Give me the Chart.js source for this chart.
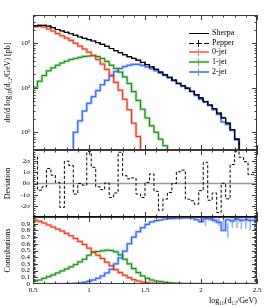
<!DOCTYPE html>
<html><head><meta charset="utf-8">
<script src="https://cdn.jsdelivr.net/npm/chart.js@4.4.1/dist/chart.umd.min.js"></script>
<style>
html,body{margin:0;padding:0;background:#fff;}
#wrap{position:relative;width:266px;height:307px;overflow:hidden;background:#fff;}
#wrap canvas{position:absolute;left:0;top:0;}
.lgt{position:absolute;font-family:'Liberation Serif','DejaVu Serif',serif;font-size:8px;line-height:9px;color:#000;white-space:nowrap;}
.lgl{position:absolute;height:0;}
</style></head>
<body><div id="wrap">
<canvas id="c1" width="266" height="307"></canvas>
<canvas id="c2" width="266" height="307"></canvas>
<canvas id="c3" width="266" height="307"></canvas>
<div id="legend"></div>
</div>
<script>
// ---------- data ----------
const binEdges = [0.50,0.54,0.58,0.62,0.66,0.70,0.74,0.78,0.82,0.86,0.90,0.94,0.98,1.02,1.06,1.10,1.14,1.18,1.22,1.26,1.30,1.34,1.38,1.42,1.46,1.50,1.54,1.58,1.62,1.66,1.70,1.74,1.78,1.82,1.86,1.90,1.94,1.98,2.02,2.06,2.10,2.14,2.18,2.22,2.26,2.30,2.34,2.38,2.42,2.46,2.50];

const sherpaTotal = [2320,2440,2520,2530,2410,2240,2030,1880,1750,1630,
  1505,1380,1285,1200,1120,1030,945,850,760,685,
  615,555,500,455,415,370,330,295,258,225,
  198,172,148,126,111,98,83,70,59,49,
  41,34,27,21,16,11.5,7,3.5,2,1.5];

const jet0 = [2260,2340,2370,2310,2100,1880,1640,1470,1300,1160,
  1000,860,740,630,530,430,340,258,190,132,
  88,55,32,16,8,3,1.5,null,null,null,
  null,null,null,null,null,null,null,null,null,null,
  null,null,null,null,null,null,null,null,null,null];

const jet1 = [78,103,140,188,240,280,320,360,395,430,
  455,480,505,515,525,500,455,390,320,270,
  225,175,125,82,52,33,21,14,10,7,
  5,3.5,2,null,null,null,null,null,null,null,
  null,null,null,null,null,null,null,null,null,null];

const jet2 = [null,null,null,null,null,null,null,null,null,2,
  10,18,30,45,63,86,117,147,185,230,
  270,300,320,335,335,318,292,268,241,214,
  190,167,144,123,109,97,82,67,55,48,
  40,32,25,17,15,11,6.8,3.4,2,1.4];

const deviation = [1.0,2.4,-0.6,-0.3,1.35,0.75,0.1,-2.15,2.0,1.6,
  -0.95,0.0,-0.15,2.85,1.45,-0.3,-0.55,0.05,-1.25,-0.85,
  2.8,0.7,0.42,0.5,-0.95,-1.25,0.1,0.85,-0.7,-2.4,
  -1.4,-0.8,0.0,1.05,1.2,-1.4,-1.55,-1.85,-0.64,1.9,
  -1.5,-0.85,-2.6,0.02,-1.37,1.7,2.85,2.35,1.95,0.8];

const frac0 = [0.97,0.955,0.935,0.91,0.88,0.85,0.82,0.79,0.755,0.72,
  0.68,0.635,0.59,0.535,0.48,0.43,0.38,0.325,0.27,0.215,
  0.17,0.13,0.095,0.065,0.045,0.03,0.02,0.013,0.009,0.006,
  0.004,0.003,0.002,0.001,0,0,0,0,0,0,
  0,0,0,0,0,0,0,0,0,0];

const frac1 = [0.03,0.045,0.06,0.085,0.11,0.135,0.165,0.195,0.225,0.255,
  0.29,0.33,0.37,0.43,0.47,0.485,0.495,0.505,0.5,0.48,
  0.435,0.37,0.3,0.23,0.17,0.12,0.085,0.06,0.045,0.035,
  0.025,0.018,0.013,0.009,0.006,0.004,0.003,0.002,0.001,0.001,
  0,0,0,0,0,0,0,0,0,0];

const frac2 = [0,0,0,0,0,0,0,0,0.003,0.006,
  0.01,0.015,0.025,0.04,0.06,0.085,0.12,0.165,0.22,0.3,
  0.39,0.49,0.6,0.7,0.78,0.84,0.89,0.925,0.945,0.955,
  0.97,0.975,0.98,0.985,0.985,0.99,0.985,0.96,0.93,0.975,
  0.97,0.95,0.92,0.8,0.96,0.94,0.97,0.95,0.96,0.95];

const frac2Err = [0,0,0,0,0,0,0,0,0,0,
  0,0,0,0,0,0,0,0,0,0,
  0,0,0,0,0,0,0,0,0,0,
  0,0,0,0,0.01,0.015,0.02,0.04,0.06,0.03,
  0.05,0.08,0.1,0.1,0.12,0.1,0.15,0.12,0.15,0.15];

const xTickValues = [0.5,1,1.5,2,2.5];
const xTickLabels = ['0.5','1','1.5','2','2.5'];
const topTickValues = [10,100,1000];
const topTickLabels = ['10\u00B9','10\u00B2','10\u00B3'];
const devTickValues = [-2,-1,0,1,2];
const devTickLabels = ['-2\u03C3','-1\u03C3','0\u03C3','1\u03C3','2\u03C3'];
const fracTickValues = [0,0.1,0.2,0.3,0.4,0.5,0.6,0.7,0.8,0.9];
const fracTickLabels = ['0','0.1','0.2','0.3','0.4','0.5','0.6','0.7','0.8','0.9'];

// ---------- styling ----------
const FONT = "'Liberation Serif','DejaVu Serif',serif";
const C = {
  red:'#e8341c', redL:'rgba(255,120,100,0.6)',
  green:'#158a15', greenL:'rgba(95,190,95,0.6)',
  blue:'#2b5cff', blueL:'rgba(110,150,255,0.6)'
};
const LEG = {redL:'#ff7b68', greenL:'#4cbc4c', blueL:'#628bff'};

function histPoints(vals){
  const pts = [];
  for (let i = 0; i < vals.length; i++) pts.push({x: binEdges[i], y: vals[i]});
  pts.push({x: binEdges[vals.length], y: vals[vals.length-1]});
  return pts;
}
function histDs(vals, color, width, dash){
  return {type:'line', data: histPoints(vals), borderColor: color, borderWidth: width,
    borderDash: dash || [], stepped: 'after', pointRadius: 0, fill: false, spanGaps: false};
}

function drawH(chart, list){
  const {ctx, chartArea: a} = chart; const ys = chart.scales.y;
  list.forEach(h => {
    const y = ys.getPixelForValue(h.value);
    ctx.save(); ctx.strokeStyle = h.color; ctx.lineWidth = h.width;
    ctx.beginPath(); ctx.moveTo(a.left, y); ctx.lineTo(a.right, y); ctx.stroke(); ctx.restore();
  });
}
const framePlugin = {
  id: 'frame',
  beforeDatasetsDraw(chart, args, o){ drawH(chart, o.under || []); },
  afterDatasetsDraw(chart, args, o){
    drawH(chart, o.over || []);
    const {ctx, chartArea: a} = chart; const xs = chart.scales.x, ys = chart.scales.y;
    ctx.save();
    ctx.strokeStyle = '#3a3a3a'; ctx.lineWidth = 1;
    ctx.strokeRect(a.left + 0.5, a.top + 0.5, a.right - a.left - 1, a.bottom - a.top - 1);
    ctx.beginPath();
    for (let k = 0; k <= 20; k++){
      const v = xs.min + k * 0.1;
      const x = Math.round(xs.getPixelForValue(v)) + 0.5;
      const len = (k % 5 === 0) ? 5 : 2.5;
      ctx.moveTo(x, a.top); ctx.lineTo(x, a.top + len);
      ctx.moveTo(x, a.bottom); ctx.lineTo(x, a.bottom - len);
    }
    const yt = (v, len) => {
      const y = Math.round(ys.getPixelForValue(v)) + 0.5;
      if (y < a.top || y > a.bottom) return;
      ctx.moveTo(a.left, y); ctx.lineTo(a.left + len, y);
      ctx.moveTo(a.right, y); ctx.lineTo(a.right - len, y);
    };
    (o.yMajor || []).forEach(v => yt(v, 5));
    (o.yMinor || []).forEach(v => yt(v, 2.5));
    ctx.stroke();
    ctx.restore();
  }
};

function yAxis(extra){
  return Object.assign({
    position: 'left',
    afterFit(s){ s.width = 33; },
    grid: {display: false, drawTicks: false}, border: {display: false}
  }, extra);
}
function tickFont(){ return {family: FONT, size: 7}; }
function titleCfg(text){ return {display: true, text, color: '#000', font: {family: FONT, size: 8}, padding: {top: 3, bottom: 0}}; }
const baseOpts = {responsive: false, animation: false, devicePixelRatio: 1,
  plugins: {legend: {display: false}, tooltip: {enabled: false}}};

// ---------- top panel ----------
const logMinor = [];
for (let d = 0; d <= 3; d++) for (let m = 2; m <= 9; m++) logMinor.push(m * Math.pow(10, d));

new Chart(document.getElementById('c1'), {
  type: 'line',
  data: {datasets: [
    histDs(sherpaTotal, '#000', 1.2),
    histDs(sherpaTotal, '#000', 1.2, [4, 2]),
    histDs(jet0, C.red, 1),
    histDs(jet1, C.green, 1),
    histDs(jet2, C.blue, 1),
    histDs(jet0, C.redL, 2.6),
    histDs(jet1, C.greenL, 2.6),
    histDs(jet2, C.blueL, 2.6)
  ]},
  options: Object.assign({}, baseOpts, {
    layout: {padding: {top: 15, bottom: 157, left: 0, right: 9}},
    scales: {
      x: {type: 'linear', min: 0.5, max: 2.5, display: false, offset: false},
      y: yAxis({type: 'logarithmic', min: 4, max: 4300,
        afterBuildTicks(s){ s.ticks = topTickValues.map(v => ({value: v})); },
        ticks: {font: tickFont(), color: '#000', padding: 3, autoSkip: false,
          callback: (v) => topTickLabels[topTickValues.indexOf(v)]},
        title: titleCfg('d\u03C3/d log\u2081\u2080(d\u2081\u2082/GeV) [pb]')})
    },
    plugins: Object.assign({}, baseOpts.plugins, {frame: {yMajor: topTickValues, yMinor: logMinor}})
  }),
  plugins: [framePlugin]
});

// ---------- middle panel ----------
const devMinor = [];
for (let k = -15; k <= 15; k++) if (k % 5 !== 0) devMinor.push(k / 5);
new Chart(document.getElementById('c2'), {
  type: 'line',
  data: {datasets: [histDs(deviation, '#000', 1, [3, 2])]},
  options: Object.assign({}, baseOpts, {
    layout: {padding: {top: 150, bottom: 90, left: 0, right: 9}},
    scales: {
      x: {type: 'linear', min: 0.5, max: 2.5, display: false, offset: false},
      y: yAxis({type: 'linear', min: -3, max: 3,
        afterBuildTicks(s){ s.ticks = devTickValues.map(v => ({value: v})); },
        ticks: {font: tickFont(), color: '#000', padding: 3, autoSkip: false,
          callback: (v) => devTickLabels[devTickValues.indexOf(v)]},
        title: titleCfg('Deviation')})
    },
    plugins: Object.assign({}, baseOpts.plugins, {frame: {yMajor: devTickValues, yMinor: devMinor,
      under: [{value: 0, color: '#9a9a9a', width: 1.6}]}})
  }),
  plugins: [framePlugin]
});

// ---------- bottom panel ----------
const fracMinor = [];
for (let k = 0; k <= 50; k++) if (k % 5 !== 0) fracMinor.push(k / 50);
const errBars = [];
for (let i = 0; i < frac2.length; i++) {
  if (frac2Err[i] > 0) errBars.push({x: (binEdges[i] + binEdges[i+1]) / 2, y: [frac2[i] - frac2Err[i], frac2[i] + frac2Err[i]]});
}
new Chart(document.getElementById('c3'), {
  type: 'line',
  data: {datasets: [
    histDs(frac0, C.red, 1),
    histDs(frac1, C.green, 1),
    histDs(frac2, C.blue, 1),
    histDs(frac0, C.redL, 2.6),
    histDs(frac1, C.greenL, 2.6),
    histDs(frac2, C.blueL, 2.6),
    {type: 'bar', data: errBars, backgroundColor: 'rgba(120,160,255,0.75)', borderWidth: 0,
      barThickness: 1, grouped: false}
  ]},
  options: Object.assign({}, baseOpts, {
    layout: {padding: {top: 217, bottom: 0, left: 0, right: 9}},
    scales: {
      x: {type: 'linear', min: 0.5, max: 2.5, offset: false,
        afterFit(s){ s.height = 23; },
        afterBuildTicks(s){ s.ticks = xTickValues.map(v => ({value: v})); },
        grid: {display: false, drawTicks: false, tickLength: 0}, border: {display: false},
        ticks: {font: tickFont(), color: '#000', padding: 2, autoSkip: false, maxRotation: 0,
          callback: (v) => xTickLabels[xTickValues.indexOf(v)]},
        title: {display: true, text: 'log\u2081\u2080(d\u2081\u2082/GeV)', align: 'end', color: '#000',
          font: {family: FONT, size: 8}, padding: {top: 0, bottom: 1}}},
      y: yAxis({type: 'linear', min: 0, max: 1,
        afterBuildTicks(s){ s.ticks = fracTickValues.map(v => ({value: v})); },
        ticks: {font: tickFont(), color: '#000', padding: 3, autoSkip: false,
          callback: (v) => fracTickLabels[fracTickValues.indexOf(v)]},
        title: titleCfg('Contributions')})
    },
    plugins: Object.assign({}, baseOpts.plugins, {frame: {yMajor: fracTickValues, yMinor: fracMinor,
      over: [{value: 1, color: '#000', width: 1.5}]}})
  }),
  plugins: [framePlugin]
});

// ---------- legend ----------
const legendRows = [
  {label: 'Sherpa', color: '#000', dashed: false, err: false},
  {label: 'Pepper', color: '#000', dashed: true, err: true},
  {label: '0-jet', color: LEG.redL, dashed: false, err: true},
  {label: '1-jet', color: LEG.greenL, dashed: false, err: true},
  {label: '2-jet', color: LEG.blueL, dashed: false, err: true}
];
const lg = document.getElementById('legend');
function seg(x1, x2, y, color, w){
  const d = document.createElement('div'); d.className = 'lgl';
  d.style.cssText += `left:${x1}px;top:${Math.round(y - w/2)}px;width:${x2 - x1}px;border-top:${w}px solid ${color};`;
  lg.appendChild(d);
}
legendRows.forEach((r, i) => {
  const cy = Math.round(33 + i * 9.7);
  if (r.dashed) { seg(189, 194, cy, r.color, 1); seg(196, 202, cy, r.color, 1); seg(204, 209, cy, r.color, 1); }
  else seg(189, 209, cy, r.color, r.color === '#000' ? 1 : 2);
  if (r.err) {
    const v = document.createElement('div'); v.className = 'lgl';
    v.style.cssText += `left:198px;top:${cy - 3}px;width:0;height:7px;border-left:1px solid ${r.color};`;
    lg.appendChild(v);
  }
  const t = document.createElement('div'); t.className = 'lgt';
  t.style.left = '212px'; t.style.top = (cy - 5) + 'px'; t.textContent = r.label;
  lg.appendChild(t);
});
</script>
</body></html>
